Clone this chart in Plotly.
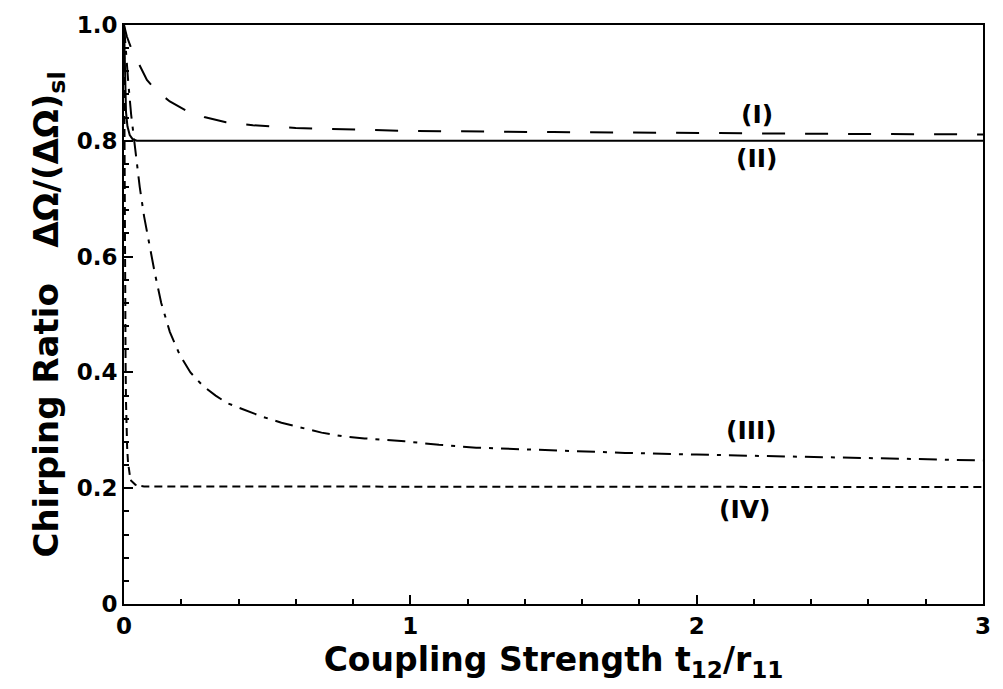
import plotly.graph_objects as go

# Coupling strength t12/r11 sample points and chirping ratio for each case
x_I = [0.0, 0.01, 0.025, 0.055, 0.08, 0.114, 0.16, 0.218, 0.28, 0.356, 0.45, 0.6,
       0.8, 1.0, 1.5, 2.0, 2.5, 3.0]
y_I = [1.0, 0.98, 0.96, 0.93, 0.905, 0.886, 0.868, 0.852, 0.841, 0.832, 0.827, 0.822,
       0.819, 0.817, 0.815, 0.813, 0.812, 0.811]

x_II = [0.0, 0.003, 0.007, 0.012, 0.02, 0.03, 0.045, 3.0]
y_II = [1.0, 0.9, 0.85, 0.825, 0.81, 0.803, 0.8, 0.8]

x_III = [0.0, 0.007, 0.015, 0.025, 0.038, 0.055, 0.07, 0.088, 0.107, 0.13, 0.16,
         0.195, 0.232, 0.275, 0.32, 0.36, 0.41, 0.48, 0.55, 0.62, 0.69, 0.76, 0.84,
         0.98, 1.1, 1.23, 1.5, 1.75, 2.0, 2.5, 3.0]
y_III = [1.0, 0.95, 0.9, 0.845, 0.789, 0.72, 0.67, 0.62, 0.573, 0.52, 0.47,
         0.43, 0.4, 0.377, 0.36, 0.347, 0.337, 0.324, 0.313, 0.304, 0.296, 0.29, 0.286,
         0.281, 0.275, 0.27, 0.265, 0.261, 0.258, 0.253, 0.248]

x_IV = [0.0, 0.001, 0.002, 0.003, 0.004, 0.0055, 0.007, 0.009, 0.011, 0.014, 0.017,
        0.021, 0.025, 0.032, 0.04, 0.055, 0.07, 3.0]
y_IV = [1.0, 0.85, 0.7, 0.58, 0.5, 0.42, 0.35, 0.3, 0.27, 0.245, 0.23,
        0.22, 0.213, 0.209, 0.206, 0.204, 0.203, 0.202]

curve_labels = ["(I)", "(II)", "(III)", "(IV)"]
label_x = [2.21, 2.21, 2.19, 2.17]
label_y = [0.845, 0.769, 0.30, 0.163]

x_ticks = [0, 1, 2, 3]
x_ticktext = ["0", "1", "2", "3"]
y_ticks = [0, 0.2, 0.4, 0.6, 0.8, 1.0]
y_ticktext = ["0", "0.2", "0.4", "0.6", "0.8", "1.0"]

FONT = "DejaVu Sans, Verdana, sans-serif"
INK = "black"

fig = go.Figure()
fig.add_trace(go.Scatter(x=x_I, y=y_I, mode="lines",
                         line=dict(color=INK, width=2, dash="23px,20px")))
fig.add_trace(go.Scatter(x=x_II, y=y_II, mode="lines",
                         line=dict(color=INK, width=2)))
fig.add_trace(go.Scatter(x=x_III, y=y_III, mode="lines",
                         line=dict(color=INK, width=2, dash="18px,8px,4px,8px")))
fig.add_trace(go.Scatter(x=x_IV, y=y_IV, mode="lines",
                         line=dict(color=INK, width=2, dash="8px,5px")))

for txt, lx, ly in zip(curve_labels, label_x, label_y):
    fig.add_annotation(x=lx, y=ly, text=txt, showarrow=False,
                       font=dict(family=FONT, size=25, color=INK, weight="bold"))

axis_common = dict(
    showline=True, linecolor=INK, linewidth=2, mirror=True,
    showgrid=False, zeroline=False,
    ticks="inside", ticklen=9, tickwidth=2, tickcolor=INK,
    tickfont=dict(family=FONT, size=23, color=INK, weight="bold"),
)

fig.update_xaxes(
    range=[0, 3], tickvals=x_ticks, ticktext=x_ticktext,
    minor=dict(dtick=0.2, ticks="inside", ticklen=5, tickwidth=2, tickcolor=INK),
    title=dict(text="Coupling Strength t<sub>12</sub>/r<sub>11</sub>",
               font=dict(family=FONT, size=33, color=INK, weight="bold"), standoff=10),
    **axis_common,
)
fig.update_yaxes(
    range=[0, 1.0], tickvals=y_ticks, ticktext=y_ticktext,
    minor=dict(dtick=0.04, ticks="inside", ticklen=5, tickwidth=2, tickcolor=INK),
    title=dict(text="Chirping Ratio\u00a0\u00a0\u00a0\u0394\u03a9/(\u0394\u03a9)<sub>sl</sub>",
               font=dict(family=FONT, size=34, color=INK, weight="bold"), standoff=8),
    **axis_common,
)

fig.update_layout(
    width=1003, height=689,
    margin=dict(l=124, r=12, t=16, b=85),
    paper_bgcolor="white", plot_bgcolor="white",
    showlegend=False,
)

fig.write_html("out.html")
